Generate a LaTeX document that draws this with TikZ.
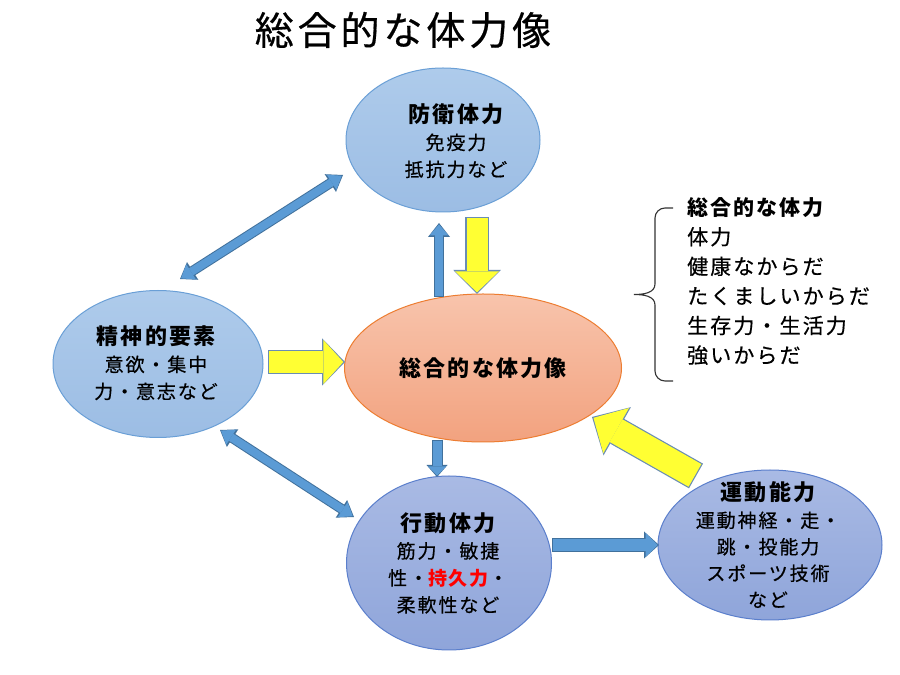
\documentclass[tikz,border=0pt]{standalone}
\usepackage{fontspec}
\setmainfont{Noto Sans CJK JP}[LetterSpace=10, UprightFeatures={FakeBold=0.5}]
\usetikzlibrary{shapes.geometric,arrows.meta,calc}

\definecolor{rimblue}{HTML}{6A9FD6}
\definecolor{blueTop}{HTML}{AECBEB}
\definecolor{blueBot}{HTML}{9CBDE4}
\definecolor{rimpurp}{HTML}{5B7FCC}
\definecolor{purpTop}{HTML}{A9BAE4}
\definecolor{purpBot}{HTML}{8FA5DA}
\definecolor{rimorange}{HTML}{ED7D31}
\definecolor{orangeTop}{HTML}{F8C4AC}
\definecolor{orangeBot}{HTML}{F2A27F}
\definecolor{arrblue}{HTML}{5B9BD5}
\definecolor{arrline}{HTML}{41719C}
\definecolor{arryel}{HTML}{FFFF33}
\definecolor{yelline}{HTML}{6A8DB3}

\newcommand{\hdr}{\fontsize{22}{27}\selectfont\bfseries}

\tikzset{
  ell/.style={ellipse, inner sep=0pt, line width=1pt},
  blueell/.style={ell, draw=rimblue, top color=blueTop, bottom color=blueBot},
  purpell/.style={ell, draw=rimpurp, top color=purpTop, bottom color=purpBot},
  orangeell/.style={ell, draw=rimorange, top color=orangeTop, bottom color=orangeBot},
  lbl/.style={align=center, inner sep=0pt, font=\fontsize{19}{27}\selectfont},
  sarrow/.style n args={3}{line width=#1,
    arrows={-{Triangle[width=#2,length=#3,line width=0pt]}}},
  darrow/.style n args={3}{line width=#1,
    arrows={{Triangle[width=#2,length=#3,line width=0pt]}-{Triangle[width=#2,length=#3,line width=0pt]}}},
  bluerim/.style={draw=arrline},
  bluebody/.style={draw=arrblue, shorten >=1.5pt, shorten <=1.2pt},
  yelrim/.style={draw=yelline},
  yelbody/.style={draw=arryel, shorten >=1.7pt, shorten <=1.2pt},
}

\begin{document}
\begin{tikzpicture}[x=1pt,y=1pt]
        \path[fill=white] (0,0) rectangle (900,675);
        \node[font=\fontsize{39}{39}\selectfont] (title) at (403,645) {総合的な体力像};
        %ellipses
        \node[blueell, minimum width=194pt, minimum height=144pt] (bouei) at (443,535) {};
        \node[blueell, minimum width=210pt, minimum height=147pt] (seishin) at (158,311) {};
        \node[orangeell, minimum width=277pt, minimum height=148pt] (sougou) at (483,307) {};
        \node[purpell, minimum width=205pt, minimum height=174pt] (koudou) at (449,112) {};
        \node[purpell, minimum width=224pt, minimum height=150pt] (undou) at (770,130) {};
        %blue arrows
        \draw[bluerim, darrow={10pt}{21pt}{15pt}] ($(seishin)+(22,85)$) -- ($(bouei)+(-100,-35)$);
        \draw[bluebody, darrow={8pt}{18pt}{12pt}] ($(seishin)+(22,85)$) -- ($(bouei)+(-100,-35)$);
        \draw[bluerim, darrow={10pt}{21pt}{15pt}] ($(seishin)+(62,-66)$) -- ($(koudou)+(-95,46)$);
        \draw[bluebody, darrow={8pt}{18pt}{12pt}] ($(seishin)+(62,-66)$) -- ($(koudou)+(-95,46)$);
        \draw[bluerim, sarrow={10pt}{22pt}{14pt}] ($(sougou)+(-44,71)$) -- ($(bouei)+(-4,-83)$);
        \draw[bluebody, sarrow={8pt}{19pt}{11pt}] ($(sougou)+(-44,71)$) -- ($(bouei)+(-4,-83)$);
        \draw[bluerim, sarrow={11pt}{21pt}{12pt}] ($(sougou)+(-46,-72)$) -- ($(koudou)+(-12,86)$);
        \draw[bluebody, sarrow={9pt}{18pt}{9pt}] ($(sougou)+(-46,-72)$) -- ($(koudou)+(-12,86)$);
        \draw[bluerim, sarrow={14pt}{27pt}{15pt}] ($(koudou)+(103,18)$) -- ($(undou)+(-111,0)$);
        \draw[bluebody, sarrow={12pt}{24pt}{12pt}] ($(koudou)+(103,18)$) -- ($(undou)+(-111,0)$);
        %yellow arrows
        \draw[yelrim, sarrow={23.4pt}{47.5pt}{24pt}] ($(bouei)+(34,-77)$) -- ($(sougou)+(-6,74)$);
        \draw[yelbody, sarrow={21pt}{44pt}{21pt}] ($(bouei)+(34,-77)$) -- ($(sougou)+(-6,74)$);
        \draw[yelrim, sarrow={24.4pt}{47.5pt}{23pt}] ($(seishin)+(110,2)$) -- ($(sougou)+(-138,6)$);
        \draw[yelbody, sarrow={22pt}{44pt}{20pt}] ($(seishin)+(110,2)$) -- ($(sougou)+(-138,6)$);
        \draw[yelrim, sarrow={28.4pt}{55.5pt}{29pt}] ($(undou)+(-74,69)$) -- ($(sougou)+(109,-49)$);
        \draw[yelbody, sarrow={26pt}{52pt}{26pt}] ($(undou)+(-74,69)$) -- ($(sougou)+(109,-49)$);
        %labels
        \node[lbl] (bouei-t) at ($(bouei)+(13,-1)$) {{\hdr 防衛体力}\\免疫力\\抵抗力など};
        \node[lbl] (seishin-t) at ($(seishin)+(-2,1)$) {{\hdr 精神的要素}\\意欲・集中\\力・意志など};
        \node[lbl] (sougou-t) at (sougou) {{\hdr 総合的な体力像}};
        \node[lbl] (koudou-t) at ($(koudou)+(-1,0)$) {{\hdr 行動体力}\\筋力・敏捷\\性・\textcolor{red}{\bfseries 持久力}・\\柔軟性など};
        \node[lbl, font=\fontsize{19}{26.5}\selectfont] (undou-t) at ($(undou)+(-2,0)$) {{\hdr 運動能力}\\運動神経・走・\\跳・投能力\\スポーツ技術\\など};
        %brace
        \node[align=left, anchor=west, inner sep=0pt, font=\fontsize{21}{29.6}\selectfont] (kakko) at (687,394)
          {\textbf{総合的な体力}\\体力\\健康なからだ\\たくましいからだ\\生存力・生活力\\強いからだ};
        \draw[line width=1.1pt, black!80] (673,467) -- (665,467) to[out=180,in=90] (655,457) -- (655,391)
          to[out=-90,in=0] (634,380.5) to[out=0,in=90] (655,370) -- (655,304) to[out=-90,in=180] (665,294) -- (673,294);
    \end{tikzpicture}
\end{document}
